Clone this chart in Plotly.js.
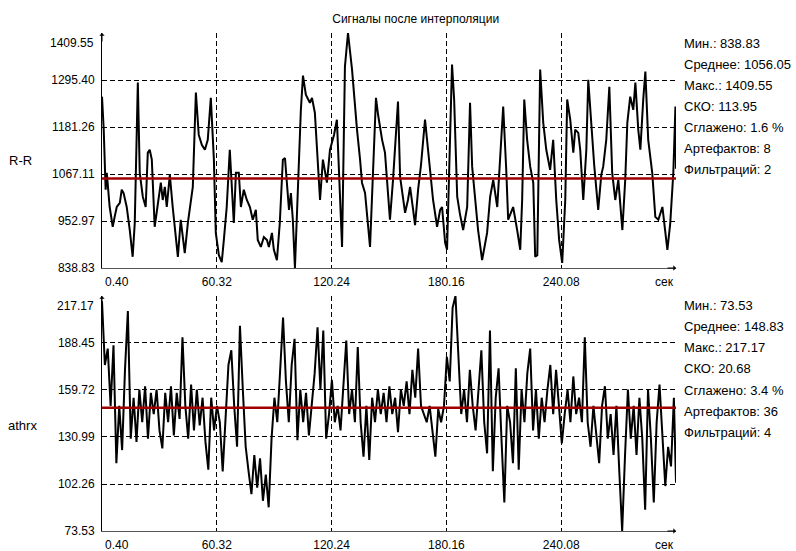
<!DOCTYPE html>
<html><head><meta charset="utf-8">
<script src="https://cdn.plot.ly/plotly-3.0.1.min.js"></script>
<style>html,body{margin:0;padding:0;background:#fff}#chart{width:796px;height:551px}</style>
</head><body><div id="chart"></div>
<script>
// ---------- DATA ----------
const rrTime = [0.4,1.3,2.3,2.9,4.4,6.0,7.0,8.1,9.7,10.7,11.7,13.3,14.9,16.4,17.5,19.1,20.1,21.7,23.2,24.3,25.3,26.4,27.9,29.5,31.1,32.1,33.2,34.2,35.8,37.3,38.9,40.0,41.5,42.6,43.6,45.2,46.7,47.8,49.4,50.9,52.5,54.1,55.6,57.2,58.8,59.8,61.4,62.9,64.0,65.5,67.1,68.2,69.2,70.3,71.8,72.9,74.4,76.0,77.6,79.1,80.7,81.7,83.3,84.9,86.5,87.5,89.1,90.1,91.7,93.2,94.8,95.9,96.9,98.0,99.0,100.0,101.1,102.1,103.2,104.2,105.3,106.8,108.9,110.0,111.5,112.6,114.2,115.7,117.8,119.4,121.5,123.0,124.6,125.7,127.2,128.8,130.9,132.5,133.5,135.1,136.1,137.7,139.2,140.3,141.9,143.4,144.5,146.6,148.1,149.7,150.7,152.3,153.9,154.9,156.0,157.5,158.6,160.1,161.2,162.8,163.8,165.4,166.9,169.0,170.6,171.6,173.2,175.3,176.9,177.9,179.5,180.5,182.1,183.1,184.2,185.8,187.3,188.9,191.0,192.5,193.6,195.2,196.7,198.8,200.4,201.4,203.0,204.6,206.7,208.2,209.8,211.4,212.4,214.0,215.0,217.1,218.7,219.7,220.8,222.3,223.9,225.5,226.5,227.6,229.1,230.7,232.3,234.3,235.9,237.5,239.0,240.6,242.2,243.2,244.8,246.4,247.4,249.0,250.0,251.6,253.2,254.2,255.8,257.3,259.4,261.0,262.0,263.6,265.2,266.7,268.3,269.9,272.0,273.5,274.6,276.1,277.7,278.8,280.3,281.4,282.9,284.0,285.5,287.6,289.2,290.8,292.9,294.4,295.5,297.0,298.6,299.7,300.0];
const rrValues = [1255,1175,1029,1070,987,939,963,987,997,1029,1020,987,931,866,948,1289,1070,1012,987,1119,1126,1102,939,987,1046,1004,1036,987,1065,987,907,866,956,914,875,948,997,1036,1265,1162,1138,1126,1150,1252,1102,924,870,853,907,987,1126,1029,948,1070,1070,987,1029,1004,987,956,980,907,890,914,907,890,924,883,858,948,1102,1106,1046,980,1021,956,838.83,963,1070,1223,1306,1260,1240,1252,1216,1119,1004,1102,1046,1126,1162,1199,1004,890,1328,1409.55,1321,1223,1175,1102,1046,1021,943,890,1077,1252,1211,1150,1119,1029,956,1053,1175,1243,1060,1016,973,1004,1036,980,943,1029,1089,1199,1126,1085,1004,939,980,987,900,883,1126,1333,1248,1012,968,931,987,1240,1085,997,931,858,895,924,1012,1053,987,1102,1231,1077,956,975,987,931,883,1004,1248,1150,1085,1046,866,870,1321,1192,1126,1077,1150,1004,907,851,1004,1248,1199,1119,1175,1167,1126,1004,1126,1296,1175,1089,980,1065,1085,1150,1279,1070,1004,1053,931,1053,1192,1255,1223,1289,1175,1126,1248,1316,1150,1070,963,956,987,931,883,948,1070,1231,1080];

const athTime = [0.4,1.9,3.4,4.9,6.4,7.9,9.4,10.9,12.4,13.9,15.4,16.9,18.4,19.9,21.4,22.9,24.4,25.9,27.4,28.9,30.4,31.9,33.4,34.9,36.4,37.9,39.4,40.9,42.4,43.9,45.4,46.9,48.4,49.9,51.4,52.9,54.4,55.9,57.4,58.9,60.4,61.9,63.4,64.9,66.4,67.9,69.4,70.9,72.4,73.9,75.4,76.9,78.4,79.9,81.4,82.9,84.4,85.9,87.4,88.9,90.4,91.9,93.4,94.9,96.4,97.9,99.4,100.9,102.4,103.9,105.4,106.9,108.4,109.9,111.4,112.9,114.4,115.9,117.4,118.9,120.4,121.9,123.4,124.9,126.4,127.9,129.4,130.9,132.4,133.9,135.4,136.9,138.4,139.9,141.4,142.9,144.4,145.9,147.4,148.9,150.4,151.9,153.4,154.9,156.4,157.9,159.4,160.9,162.4,163.9,165.4,166.9,168.4,169.9,171.4,172.9,174.4,175.9,177.4,178.9,180.4,181.9,183.4,184.9,186.4,187.9,189.4,190.9,192.4,193.9,195.4,196.9,198.4,199.9,201.4,202.9,204.4,205.9,207.4,208.9,210.4,211.9,213.4,214.9,216.4,217.9,219.4,220.9,222.4,223.9,225.4,226.9,228.4,229.9,231.4,232.9,234.4,235.9,237.4,238.9,240.4,241.9,243.4,244.9,246.4,247.9,249.4,250.9,252.4,253.9,255.4,256.9,258.4,259.9,261.4,262.9,264.4,265.9,267.4,268.9,270.4,271.9,273.4,274.9,276.4,277.9,279.4,280.9,282.4,283.9,285.4,286.9,288.4,289.9,291.4,292.9,294.4,295.9,297.4,298.9,300.0];
const athValues = [214,175,185,150,187,115,150,123,172,208,130,155,128,160,140,162,130,158,145,160,135,124,158,140,162,132,158,142,192,150,130,163,135,160,138,155,128,111,155,135,150,140,110,145,175,184,150,125,199,160,125,110,96,120,100,118,92,108,88,130,155,140,175,204,165,140,175,191,129,160,140,158,132,150,170,198,160,196,130,145,166,140,150,135,165,190,145,160,140,186,140,119,150,117,155,140,160,145,158,140,162,145,155,134,160,150,165,145,172,155,185,150,145,140,150,135,119,148,140,150,180,165,210,217.17,185,145,160,140,172,150,135,160,184,140,121,196,110,155,173,130,91,150,140,115,173,111,160,140,170,185,135,160,130,155,140,160,175,145,172,150,127,145,160,140,168,145,155,140,192,140,125,150,130,115,150,162,130,145,120,150,110,73.53,120,160,130,150,120,155,130,86.5,160,130,91,140,163,135,101,125,113,155,103];

const rrMean = 1056.05;
const athMean = 148.83;

const rrTicks = [838.83, 952.97, 1067.11, 1181.26, 1295.40, 1409.55];
const rrTickText = ['838.83','952.97','1067.11','1181.26','1295.40','1409.55'];
const athTicks = [73.53, 102.26, 130.99, 159.72, 188.45, 217.17];
const athTickText = ['73.53','102.26','130.99','159.72','188.45','217.17'];
const timeTicks = [0.40, 60.32, 120.24, 180.16, 240.08];
const timeTickText = ['0.40','60.32','120.24','180.16','240.08'];
const timeEnd = 300;
const timeUnit = 'сек';

const statNames = ['Мин.', 'Среднее', 'Макс.', 'СКО', 'Сглажено', 'Артефактов', 'Фильтраций'];
const rrStatValues = ['838.83', '1056.05', '1409.55', '113.95', '1.6 %', '8', '2'];
const athStatValues = ['73.53', '148.83', '217.17', '20.68', '3.4 %', '36', '4'];

const chartTitle = 'Сигналы после интерполяции';
const rrName = 'R-R';
const athName = 'athrx';

// ---------- LAYOUT HELPERS ----------
const FONT = 'Liberation Sans, Arial, sans-serif';
const W = 796, H = 551;
const M = {l:102, r:120, t:33, b:20};
const plotH = H - M.t - M.b;
const topPanelBottomPx = 268, botPanelTopPx = 296;
const topDomain = [(H - M.b - topPanelBottomPx)/plotH, 1];
const botDomain = [0, (H - M.b - botPanelTopPx)/plotH];
const gridDash = '5px,3px';

function xAxis(anchor){
  return {
    domain:[0,1], anchor:anchor, range:[timeTicks[0], timeEnd],
    tickmode:'array', tickvals:timeTicks.slice(1), ticktext:timeTickText.slice(1),
    showgrid:false, zeroline:false, showline:true, linecolor:'#555', linewidth:1,
    ticks:'outside', ticklen:3, tickcolor:'rgba(0,0,0,0)',
    tickfont:{family:FONT, size:12, color:'#000'},
    minor:{tickmode:'array', tickvals:timeTicks.slice(1), showgrid:true, gridcolor:'#000', griddash:gridDash, gridwidth:1, ticks:''},
    fixedrange:true
  };
}
function yAxis(anchor, domain, ticks, text){
  return {
    domain:domain, anchor:anchor, range:[ticks[0], ticks[ticks.length-1]],
    tickmode:'array', tickvals:ticks.slice(0, ticks.length-1), ticktext:text.slice(0, text.length-1),
    showgrid:false, zeroline:false, showline:true, linecolor:'#000', linewidth:1,
    ticks:'outside', ticklen:4, tickcolor:'rgba(0,0,0,0)',
    tickfont:{family:FONT, size:12, color:'#000'},
    minor:{tickmode:'array', tickvals:ticks.slice(1, ticks.length-1), showgrid:true, gridcolor:'#000', griddash:gridDash, gridwidth:1, ticks:''},
    fixedrange:true
  };
}

const traces = [
  {x:rrTime, y:rrValues, xaxis:'x', yaxis:'y', type:'scatter', mode:'lines', line:{color:'#000', width:2}, hoverinfo:'skip'},
  {x:[timeTicks[0], timeEnd], y:[rrMean, rrMean], xaxis:'x', yaxis:'y', type:'scatter', mode:'lines', line:{color:'#a00000', width:2.5}, hoverinfo:'skip'},
  {x:athTime, y:athValues, xaxis:'x2', yaxis:'y2', type:'scatter', mode:'lines', line:{color:'#000', width:2}, hoverinfo:'skip'},
  {x:[timeTicks[0], timeEnd], y:[athMean, athMean], xaxis:'x2', yaxis:'y2', type:'scatter', mode:'lines', line:{color:'#a00000', width:2.5}, hoverinfo:'skip'}
];

const ann = [];
function txt(o){ ann.push(Object.assign({showarrow:false, font:{family:FONT, size:12, color:'#000'}}, o)); }

// edge tick labels
txt({xref:'paper', x:0, xanchor:'right', xshift:-6, yref:'y', y:rrTicks[5], yanchor:'top', yshift:-1, text:rrTickText[5]});
txt({xref:'paper', x:0, xanchor:'right', xshift:-6, yref:'y2', y:athTicks[5], yanchor:'top', yshift:-1, text:athTickText[5]});
txt({xref:'x', x:timeTicks[0], xanchor:'left', xshift:1, yref:'y', y:rrTicks[0], yanchor:'top', yshift:-5, text:timeTickText[0]});
txt({xref:'x2', x:timeTicks[0], xanchor:'left', xshift:1, yref:'y2', y:athTicks[0], yanchor:'top', yshift:-5, text:timeTickText[0]});
txt({xref:'x', x:timeEnd, xanchor:'right', xshift:0, yref:'y', y:rrTicks[0], yanchor:'top', yshift:-5, text:timeUnit});
txt({xref:'x2', x:timeEnd, xanchor:'right', xshift:0, yref:'y2', y:athTicks[0], yanchor:'top', yshift:-5, text:timeUnit});

// axis arrows
function arrow(xr, yr, x, y, ax, ay){
  ann.push({xref:xr, yref:yr, x:x, y:y, ax:ax, ay:ay, text:'', showarrow:true, arrowhead:1, arrowsize:0.9, arrowwidth:1, arrowcolor:'#000', standoff:0});
}
arrow('x','y', timeTicks[0], rrTicks[5], 0, 10);
arrow('x2','y2', timeTicks[0], athTicks[5], 0, 10);
arrow('x','y', timeEnd, rrTicks[0], -10, 0);
arrow('x2','y2', timeEnd, athTicks[0], -10, 0);

// series names
txt({xref:'paper', x:0, xshift:-82, xanchor:'center', yref:'paper', y:1, yshift:M.t-160.7, yanchor:'middle', text:rrName, font:{family:FONT, size:13, color:'#000'}});
txt({xref:'paper', x:0, xshift:-80, xanchor:'center', yref:'paper', y:1, yshift:M.t-425, yanchor:'middle', text:athName, font:{family:FONT, size:13, color:'#000'}});

// statistics
statNames.forEach(function(n, i){
  txt({xref:'paper', x:1, xshift:6, xanchor:'left', yref:'paper', y:1, yshift:M.t-(43.3+i*21), yanchor:'middle', text:n+': '+rrStatValues[i], font:{family:FONT, size:13, color:'#000'}});
  txt({xref:'paper', x:1, xshift:6, xanchor:'left', yref:'paper', y:1, yshift:M.t-(305+i*21.3), yanchor:'middle', text:n+': '+athStatValues[i], font:{family:FONT, size:13, color:'#000'}});
});

const layout = {
  width:W, height:H, margin:M, paper_bgcolor:'#fff', plot_bgcolor:'#fff', showlegend:false,
  font:{family:FONT, size:12, color:'#000'},
  title:{text:chartTitle, font:{family:FONT, size:12, color:'#000'}, xref:'paper', x:(415.7-M.l)/(W-M.l-M.r), xanchor:'center', yref:'container', y:1-18.3/H, yanchor:'middle'},
  xaxis:xAxis('y'), yaxis:yAxis('x', topDomain, rrTicks, rrTickText),
  xaxis2:xAxis('y2'), yaxis2:yAxis('x2', botDomain, athTicks, athTickText),
  annotations:ann
};

Plotly.newPlot('chart', traces, layout, {staticPlot:true, displayModeBar:false});
</script></body></html>
